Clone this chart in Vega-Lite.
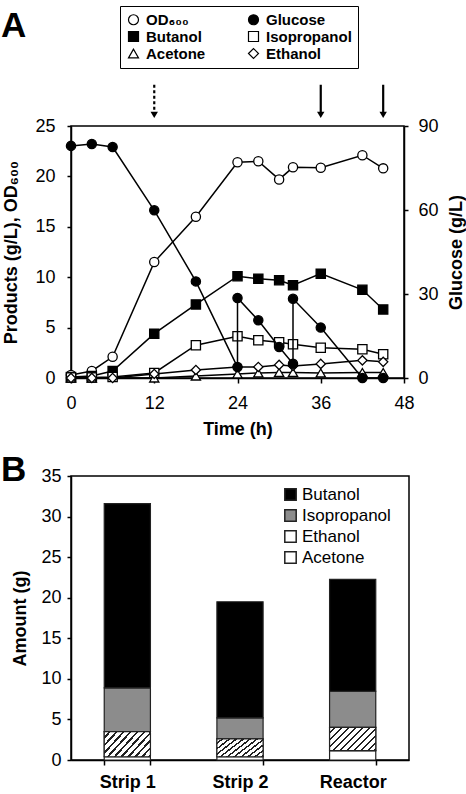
{
  "$schema": "https://vega.github.io/schema/vega-lite/v6.json",
  "padding": {"left": 0, "top": 4, "right": 0, "bottom": 0},
  "background": "white",
  "spacing": 13,
  "resolve": {"scale": {"fill": "independent", "shape": "independent", "stroke": "independent"}, "legend": {"fill": "independent", "shape": "independent", "stroke": "independent"}},
  "config": {
    "font": "Liberation Sans",
    "view": {"stroke": "black", "strokeWidth": 1.5},
    "axis": {"domainColor": "black", "domainWidth": 1.5, "tickColor": "black", "tickWidth": 1.5, "labelColor": "black", "titleColor": "black", "labelFont": "Liberation Sans", "titleFont": "Liberation Sans", "labelFontSize": 18, "titleFontSize": 18, "titleFontWeight": "bold", "grid": false, "labelFlush": false, "labelOverlap": false}
  },
  "datasets": {
    "tc": [
      {"series": "OD600", "t": 0, "value": 0.3}, {"series": "OD600", "t": 3, "value": 0.7}, {"series": "OD600", "t": 6, "value": 2.1}, {"series": "OD600", "t": 12, "value": 11.5}, {"series": "OD600", "t": 18, "value": 16.0}, {"series": "OD600", "t": 24, "value": 21.4}, {"series": "OD600", "t": 27, "value": 21.5}, {"series": "OD600", "t": 30, "value": 19.7}, {"series": "OD600", "t": 32, "value": 20.9}, {"series": "OD600", "t": 36, "value": 20.85}, {"series": "OD600", "t": 42, "value": 22.1}, {"series": "OD600", "t": 45, "value": 20.8},
      {"series": "Butanol", "t": 0, "value": 0.1}, {"series": "Butanol", "t": 3, "value": 0.2}, {"series": "Butanol", "t": 6, "value": 0.7}, {"series": "Butanol", "t": 12, "value": 4.4}, {"series": "Butanol", "t": 18, "value": 7.3}, {"series": "Butanol", "t": 24, "value": 10.1}, {"series": "Butanol", "t": 27, "value": 9.85}, {"series": "Butanol", "t": 30, "value": 9.7}, {"series": "Butanol", "t": 32, "value": 9.2}, {"series": "Butanol", "t": 36, "value": 10.35}, {"series": "Butanol", "t": 42, "value": 8.75}, {"series": "Butanol", "t": 45, "value": 6.8},
      {"series": "Isopropanol", "t": 0, "value": 0.05}, {"series": "Isopropanol", "t": 3, "value": 0.05}, {"series": "Isopropanol", "t": 6, "value": 0.1}, {"series": "Isopropanol", "t": 12, "value": 0.5}, {"series": "Isopropanol", "t": 18, "value": 3.25}, {"series": "Isopropanol", "t": 24, "value": 4.15}, {"series": "Isopropanol", "t": 27, "value": 3.75}, {"series": "Isopropanol", "t": 30, "value": 3.55}, {"series": "Isopropanol", "t": 32, "value": 3.35}, {"series": "Isopropanol", "t": 36, "value": 3.0}, {"series": "Isopropanol", "t": 42, "value": 2.85}, {"series": "Isopropanol", "t": 45, "value": 2.35},
      {"series": "Acetone", "t": 0, "value": 0}, {"series": "Acetone", "t": 3, "value": 0}, {"series": "Acetone", "t": 12, "value": 0}, {"series": "Acetone", "t": 18, "value": 0.2}, {"series": "Acetone", "t": 24, "value": 0.4}, {"series": "Acetone", "t": 27, "value": 0.5}, {"series": "Acetone", "t": 30, "value": 0.55}, {"series": "Acetone", "t": 32, "value": 0.55}, {"series": "Acetone", "t": 36, "value": 0.5}, {"series": "Acetone", "t": 42, "value": 0.55}, {"series": "Acetone", "t": 45, "value": 0.55},
      {"series": "Ethanol", "t": 0, "value": 0}, {"series": "Ethanol", "t": 3, "value": 0}, {"series": "Ethanol", "t": 6, "value": 0}, {"series": "Ethanol", "t": 12, "value": 0.4}, {"series": "Ethanol", "t": 18, "value": 0.8}, {"series": "Ethanol", "t": 24, "value": 1.1}, {"series": "Ethanol", "t": 27, "value": 1.1}, {"series": "Ethanol", "t": 30, "value": 1.3}, {"series": "Ethanol", "t": 32, "value": 1.2}, {"series": "Ethanol", "t": 36, "value": 1.4}, {"series": "Ethanol", "t": 42, "value": 1.75}, {"series": "Ethanol", "t": 45, "value": 1.6},
      {"series": "Glucose", "t": 0, "value": 82.9, "ord": 0}, {"series": "Glucose", "t": 3, "value": 83.6, "ord": 1}, {"series": "Glucose", "t": 6, "value": 82.5, "ord": 2}, {"series": "Glucose", "t": 12, "value": 59.9, "ord": 3}, {"series": "Glucose", "t": 18, "value": 34.5, "ord": 4}, {"series": "Glucose", "t": 24, "value": 3.9, "ord": 5}, {"series": "Glucose", "t": 24, "value": 28.6, "ord": 6}, {"series": "Glucose", "t": 27, "value": 20.6, "ord": 7}, {"series": "Glucose", "t": 30, "value": 11.1, "ord": 8}, {"series": "Glucose", "t": 32, "value": 5.1, "ord": 9}, {"series": "Glucose", "t": 32, "value": 28.3, "ord": 10}, {"series": "Glucose", "t": 36, "value": 18.0, "ord": 11}, {"series": "Glucose", "t": 42, "value": 0, "ord": 12}, {"series": "Glucose", "t": 45, "value": 0, "ord": 13}
    ],
    "arrows": [
      {"t": 12, "top": 29.1, "bottom": 26.1, "kind": "dotted"},
      {"t": 36, "top": 29.1, "bottom": 26.1, "kind": "solid"},
      {"t": 45, "top": 29.1, "bottom": 26.1, "kind": "solid"}
    ],
    "bars": [
      {"run": "Strip 1", "component": "Acetone", "rank": 1, "amount": 0.4},
      {"run": "Strip 1", "component": "Ethanol", "rank": 2, "amount": 3.1},
      {"run": "Strip 1", "component": "Isopropanol", "rank": 3, "amount": 5.4},
      {"run": "Strip 1", "component": "Butanol", "rank": 4, "amount": 22.7},
      {"run": "Strip 2", "component": "Acetone", "rank": 1, "amount": 0.4},
      {"run": "Strip 2", "component": "Ethanol", "rank": 2, "amount": 2.2},
      {"run": "Strip 2", "component": "Isopropanol", "rank": 3, "amount": 2.6},
      {"run": "Strip 2", "component": "Butanol", "rank": 4, "amount": 14.3},
      {"run": "Reactor", "component": "Acetone", "rank": 1, "amount": 1.15},
      {"run": "Reactor", "component": "Ethanol", "rank": 2, "amount": 2.87},
      {"run": "Reactor", "component": "Isopropanol", "rank": 3, "amount": 4.45},
      {"run": "Reactor", "component": "Butanol", "rank": 4, "amount": 13.8}
    ]
  },
  "vconcat": [
    {
      "width": 333,
      "height": 252,
      "title": {"text": "A", "anchor": "start", "frame": "group", "fontSize": 35, "fontWeight": "bold", "font": "Liberation Sans", "color": "black", "dx": -70, "dy": 38, "offset": 0},
      "layer": [
        {
          "layer": [
            {
              "data": {"name": "tc"},
              "transform": [{"filter": "datum.series !== 'Glucose'"}],
              "mark": {"type": "line", "color": "black", "strokeWidth": 1.5},
              "encoding": {
                "x": {"field": "t", "type": "quantitative", "title": "Time (h)", "scale": {"domain": [0, 48], "nice": false}, "axis": {"values": [0, 12, 24, 36, 48], "tickSize": 5, "labelPadding": 11, "titlePadding": 8}},
                "y": {"field": "value", "type": "quantitative", "title": "Products (g/L), OD₆₀₀", "scale": {"domain": [0, 25], "nice": false}, "axis": {"orient": "left", "values": [0, 5, 10, 15, 20, 25], "tickSize": 4, "labelPadding": 12, "titlePadding": 14}},
                "detail": {"field": "series"}
              }
            },
            {
              "data": {"name": "tc"},
              "transform": [{"filter": "datum.series !== 'Glucose'"}],
              "mark": {"type": "point", "filled": false, "strokeWidth": 1.3, "size": 85, "opacity": 1},
              "encoding": {
                "x": {"field": "t", "type": "quantitative", "title": "Time (h)"},
                "y": {"field": "value", "type": "quantitative", "title": "Products (g/L), OD₆₀₀"},
                "shape": {"field": "series", "type": "nominal", "scale": {"domain": ["OD600", "Glucose", "Butanol", "Isopropanol", "Acetone", "Ethanol"], "range": ["circle", "circle", "square", "square", "triangle-up", "diamond"]}, "legend": {"title": null, "orient": "none", "legendX": 49, "legendY": -120, "direction": "horizontal", "columns": 2, "columnPadding": 40, "rowPadding": 1, "padding": 6, "strokeColor": "black", "fillColor": "white", "labelFontSize": 15, "labelFontWeight": "bold", "labelFont": "Liberation Sans", "labelColor": "black", "symbolSize": 100, "symbolStrokeWidth": 1.2, "labelOffset": 5, "labelExpr": "datum.label === 'OD600' ? 'OD₆₀₀' : datum.label"}},
                "fill": {"field": "series", "type": "nominal", "scale": {"domain": ["OD600", "Glucose", "Butanol", "Isopropanol", "Acetone", "Ethanol"], "range": ["white", "black", "black", "white", "white", "white"]}, "legend": {"title": null, "orient": "none", "legendX": 49, "legendY": -120, "direction": "horizontal", "columns": 2, "columnPadding": 40, "rowPadding": 1, "padding": 6, "strokeColor": "black", "fillColor": "white", "labelFontSize": 15, "labelFontWeight": "bold", "labelFont": "Liberation Sans", "labelColor": "black", "symbolSize": 100, "symbolStrokeWidth": 1.2, "labelOffset": 5, "labelExpr": "datum.label === 'OD600' ? 'OD₆₀₀' : datum.label"}},
                "stroke": {"field": "series", "type": "nominal", "scale": {"domain": ["OD600", "Glucose", "Butanol", "Isopropanol", "Acetone", "Ethanol"], "range": ["black", "black", "black", "black", "black", "black"]}, "legend": {"title": null, "orient": "none", "legendX": 49, "legendY": -120, "direction": "horizontal", "columns": 2, "columnPadding": 40, "rowPadding": 1, "padding": 6, "strokeColor": "black", "fillColor": "white", "labelFontSize": 15, "labelFontWeight": "bold", "labelFont": "Liberation Sans", "labelColor": "black", "symbolSize": 100, "symbolStrokeWidth": 1.2, "labelOffset": 5, "labelExpr": "datum.label === 'OD600' ? 'OD₆₀₀' : datum.label"}}
              }
            },
            {
              "data": {"name": "arrows"},
              "mark": {"type": "rule", "color": "black", "strokeWidth": 2.2},
              "encoding": {
                "x": {"field": "t", "type": "quantitative", "title": "Time (h)"},
                "y": {"field": "top", "type": "quantitative", "title": "Products (g/L), OD₆₀₀"},
                "y2": {"field": "bottom"},
                "strokeDash": {"field": "kind", "type": "nominal", "scale": {"domain": ["dotted", "solid"], "range": [[3, 2.5], [1, 0]]}, "legend": null}
              }
            },
            {
              "data": {"name": "arrows"},
              "mark": {"type": "point", "shape": "triangle-down", "filled": true, "color": "black", "size": 55, "opacity": 1},
              "encoding": {
                "x": {"field": "t", "type": "quantitative", "title": "Time (h)"},
                "y": {"field": "bottom", "type": "quantitative", "title": "Products (g/L), OD₆₀₀"}
              }
            }
          ]
        },
        {
          "data": {"name": "tc"},
          "transform": [{"filter": "datum.series === 'Glucose'"}],
          "layer": [
            {
              "mark": {"type": "line", "color": "black", "strokeWidth": 1.5},
              "encoding": {
                "x": {"field": "t", "type": "quantitative", "title": "Time (h)"},
                "y": {"field": "value", "type": "quantitative", "title": "Glucose (g/L)", "scale": {"domain": [0, 90], "nice": false}, "axis": {"orient": "right", "values": [0, 30, 60, 90], "tickSize": 4, "labelPadding": 10, "titlePadding": 9, "titleAngle": -90, "titleBaseline": "top"}},
                "order": {"field": "ord", "type": "quantitative"}
              }
            },
            {
              "mark": {"type": "point", "filled": false, "strokeWidth": 1.3, "size": 85, "opacity": 1},
              "encoding": {
                "x": {"field": "t", "type": "quantitative", "title": "Time (h)"},
                "y": {"field": "value", "type": "quantitative", "title": "Glucose (g/L)"},
                "shape": {"field": "series", "type": "nominal", "scale": {"domain": ["OD600", "Glucose", "Butanol", "Isopropanol", "Acetone", "Ethanol"], "range": ["circle", "circle", "square", "square", "triangle-up", "diamond"]}},
                "fill": {"field": "series", "type": "nominal", "scale": {"domain": ["OD600", "Glucose", "Butanol", "Isopropanol", "Acetone", "Ethanol"], "range": ["white", "black", "black", "white", "white", "white"]}},
                "stroke": {"field": "series", "type": "nominal", "scale": {"domain": ["OD600", "Glucose", "Butanol", "Isopropanol", "Acetone", "Ethanol"], "range": ["black", "black", "black", "black", "black", "black"]}}
              }
            }
          ]
        }
      ],
      "resolve": {"scale": {"y": "independent"}}
    },
    {
      "width": 338,
      "height": 284,
      "data": {"name": "bars"},
      "transform": [{"stack": "amount", "groupby": ["run"], "sort": [{"field": "rank", "order": "ascending"}], "as": ["lo", "hi"]}],
      "title": {"text": "B", "anchor": "start", "frame": "group", "fontSize": 35, "fontWeight": "bold", "font": "Liberation Sans", "color": "black", "dx": -70, "dy": 21, "offset": 0},
      "layer": [
        {
          "mark": {"type": "bar", "stroke": "#222222", "strokeWidth": 1.2},
          "encoding": {
            "x": {"field": "run", "type": "nominal", "sort": ["Strip 1", "Strip 2", "Reactor"], "title": null, "scale": {"paddingInner": 0.59, "paddingOuter": 0.295}, "axis": {"labelAngle": 0, "labelFontWeight": "bold", "tickBand": "extent", "tickSize": 5, "labelPadding": 8}},
            "y": {"field": "hi", "type": "quantitative", "title": "Amount (g)", "scale": {"domain": [0, 35], "nice": false}, "axis": {"values": [0, 5, 10, 15, 20, 25, 30, 35], "tickSize": 4, "labelPadding": 6, "titlePadding": 11}},
            "y2": {"field": "lo"},
            "fill": {"field": "component", "type": "nominal", "scale": {"domain": ["Butanol", "Isopropanol", "Ethanol", "Acetone"], "range": ["black", "#8c8c8c", "white", "white"]}, "legend": {"title": null, "orient": "none", "legendX": 211, "legendY": 10, "rowPadding": 2, "labelFontSize": 17, "labelFont": "Liberation Sans", "labelColor": "black", "symbolType": "square", "symbolSize": 130, "symbolStrokeColor": "#222222", "symbolStrokeWidth": 1.5, "labelOffset": 3,
              "encode": {"symbols": {"update": {"stroke": {"value": "#222222"}, "strokeWidth": {"value": 1.5}}}}}
            }
          }
        },
        {
          "transform": [{"filter": "datum.component === 'Ethanol'"}],
          "mark": {"type": "bar", "stroke": "#222222", "strokeWidth": 1.2, "fill": {"gradient": "linear", "x1": 0, "y1": 0, "x2": 1.2, "y2": 0.6, "stops": [
            {"offset": 0, "color": "white"}, {"offset": 0.065, "color": "white"}, {"offset": 0.065, "color": "#222222"}, {"offset": 0.1, "color": "#222222"},
            {"offset": 0.1, "color": "white"}, {"offset": 0.165, "color": "white"}, {"offset": 0.165, "color": "#222222"}, {"offset": 0.2, "color": "#222222"},
            {"offset": 0.2, "color": "white"}, {"offset": 0.265, "color": "white"}, {"offset": 0.265, "color": "#222222"}, {"offset": 0.3, "color": "#222222"},
            {"offset": 0.3, "color": "white"}, {"offset": 0.365, "color": "white"}, {"offset": 0.365, "color": "#222222"}, {"offset": 0.4, "color": "#222222"},
            {"offset": 0.4, "color": "white"}, {"offset": 0.465, "color": "white"}, {"offset": 0.465, "color": "#222222"}, {"offset": 0.5, "color": "#222222"},
            {"offset": 0.5, "color": "white"}, {"offset": 0.565, "color": "white"}, {"offset": 0.565, "color": "#222222"}, {"offset": 0.6, "color": "#222222"},
            {"offset": 0.6, "color": "white"}, {"offset": 0.665, "color": "white"}, {"offset": 0.665, "color": "#222222"}, {"offset": 0.7, "color": "#222222"},
            {"offset": 0.7, "color": "white"}, {"offset": 0.765, "color": "white"}, {"offset": 0.765, "color": "#222222"}, {"offset": 0.8, "color": "#222222"},
            {"offset": 0.8, "color": "white"}, {"offset": 0.865, "color": "white"}, {"offset": 0.865, "color": "#222222"}, {"offset": 0.9, "color": "#222222"},
            {"offset": 0.9, "color": "white"}, {"offset": 0.965, "color": "white"}, {"offset": 0.965, "color": "#222222"}, {"offset": 1, "color": "#222222"}
          ]}},
          "encoding": {
            "x": {"field": "run", "type": "nominal", "sort": ["Strip 1", "Strip 2", "Reactor"], "title": null},
            "y": {"field": "hi", "type": "quantitative", "title": "Amount (g)"},
            "y2": {"field": "lo"}
          }
        }
      ]
    }
  ]
}
